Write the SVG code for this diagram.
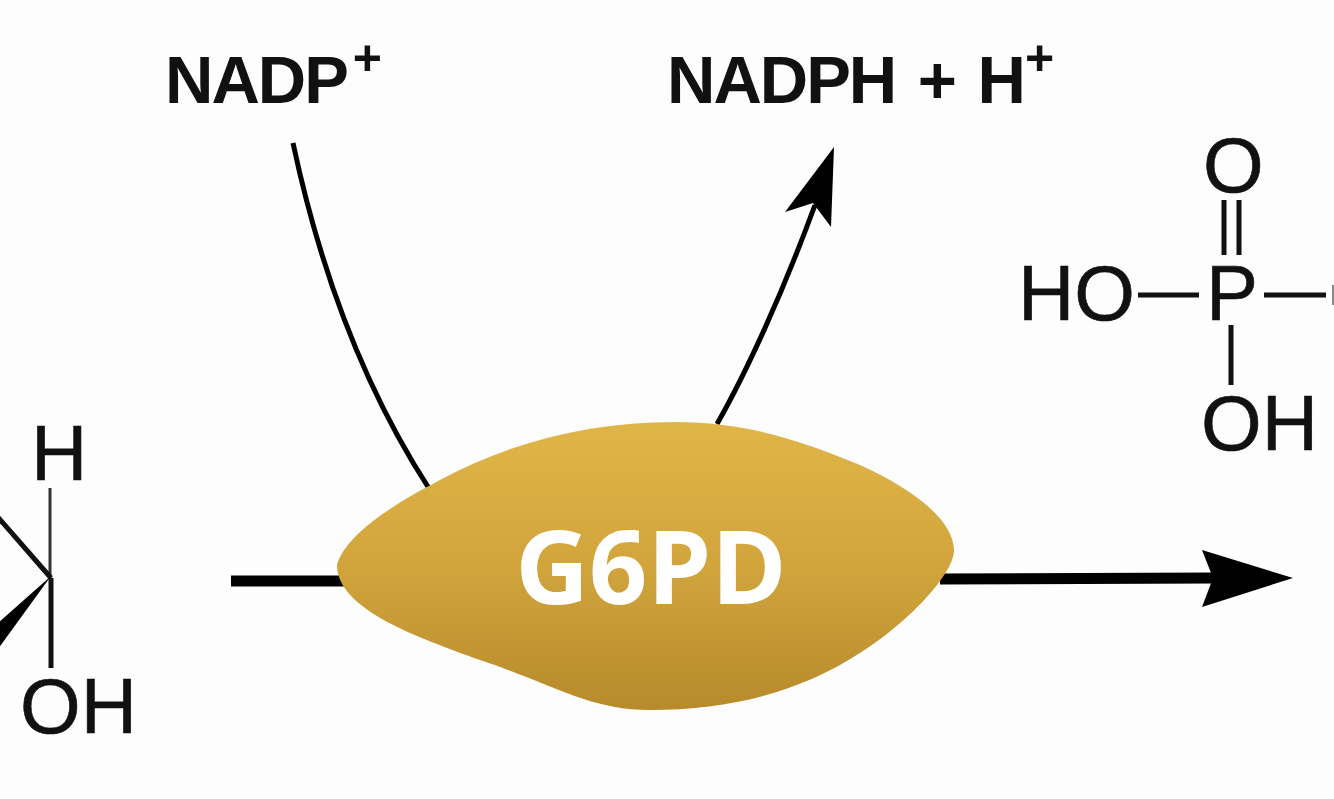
<svg xmlns="http://www.w3.org/2000/svg" width="1334" height="799" viewBox="0 0 1334 799">
<style>
.chem{font-family:"Liberation Sans",Arial,sans-serif;font-size:78px;fill:#111;stroke:#111;stroke-width:.6}
.lab{font-family:"Liberation Sans",Arial,sans-serif;font-weight:700;font-size:67px;letter-spacing:-2px;word-spacing:6px;fill:#111}
.sup{font-size:50px}
.b{stroke:#111;stroke-width:5;fill:none}
.c{stroke:#000;fill:none}
</style>
<defs>
<linearGradient id="g" x1="0" y1="0" x2="0" y2="1"><stop offset="0" stop-color="#e0b548"/><stop offset="0.5" stop-color="#d1a53c"/><stop offset="1" stop-color="#b78a2b"/></linearGradient>
</defs>
<rect width="1334" height="799" fill="#fdfdfd"/>
<g id="connectors">
<path class="c" stroke-width="11" d="M231 581H345"/>
<path class="c" stroke-width="11" d="M940 579L1215 578"/>
<path fill="#000" d="M1293 578L1202 550L1213 578L1202 607Z"/>
<path class="c" stroke-width="5" d="M293 143C320 270 365 390 430 490"/>
<path class="c" stroke-width="5" d="M717 424C745 375 782 295 815 205"/>
<path fill="#000" d="M834 147L785 212L813 203L831 227Z"/>
</g>
<g id="g6pd">
<path fill="url(#g)" d="M337 565C345 535 395 503 440 480C510 442 590 422 675 422C745 422 800 440 860 465C915 490 953 520 954 550C954 575 905 625 860 653C800 692 730 710 650 710C590 710 555 685 480 660C420 638 337 610 337 565Z"/>
<text x="651" y="604" text-anchor="middle" font-family="'Open Sans','Noto Sans',sans-serif" font-weight="700" font-size="102" fill="#fff">G6PD</text>
</g>
<g id="nadp"><text class="lab" x="165" y="103">NADP<tspan class="sup" dx="6" dy="-28">+</tspan></text></g>
<g id="nadph"><text class="lab" x="667" y="103">NADPH + H<tspan class="sup" dx="1" dy="-28">+</tspan></text></g>
<g id="sugar">
<text class="chem" x="31" y="480">H</text>
<text class="chem" x="20" y="733">OH</text>
<path d="M50 488V578" stroke="#333" stroke-width="3" fill="none"/>
<path class="b" d="M51 578V668"/>
<path class="b" d="M-10 508L51 578"/>
<path fill="#000" d="M51 576L-10 630V660Z"/>
</g>
<g id="phosphate">
<text class="chem" x="1203" y="192">O</text>
<text class="chem" x="1018" y="320">HO</text>
<text class="chem" x="1206" y="320">P</text>
<text class="chem" x="1201" y="450">OH</text>
<path class="b" d="M1224 200V255M1239 200V255M1138 295H1199M1264 295H1326M1231 325V385"/>
<path d="M1333 285V305" stroke="#888" stroke-width="2" fill="none"/>
</g>
</svg>
